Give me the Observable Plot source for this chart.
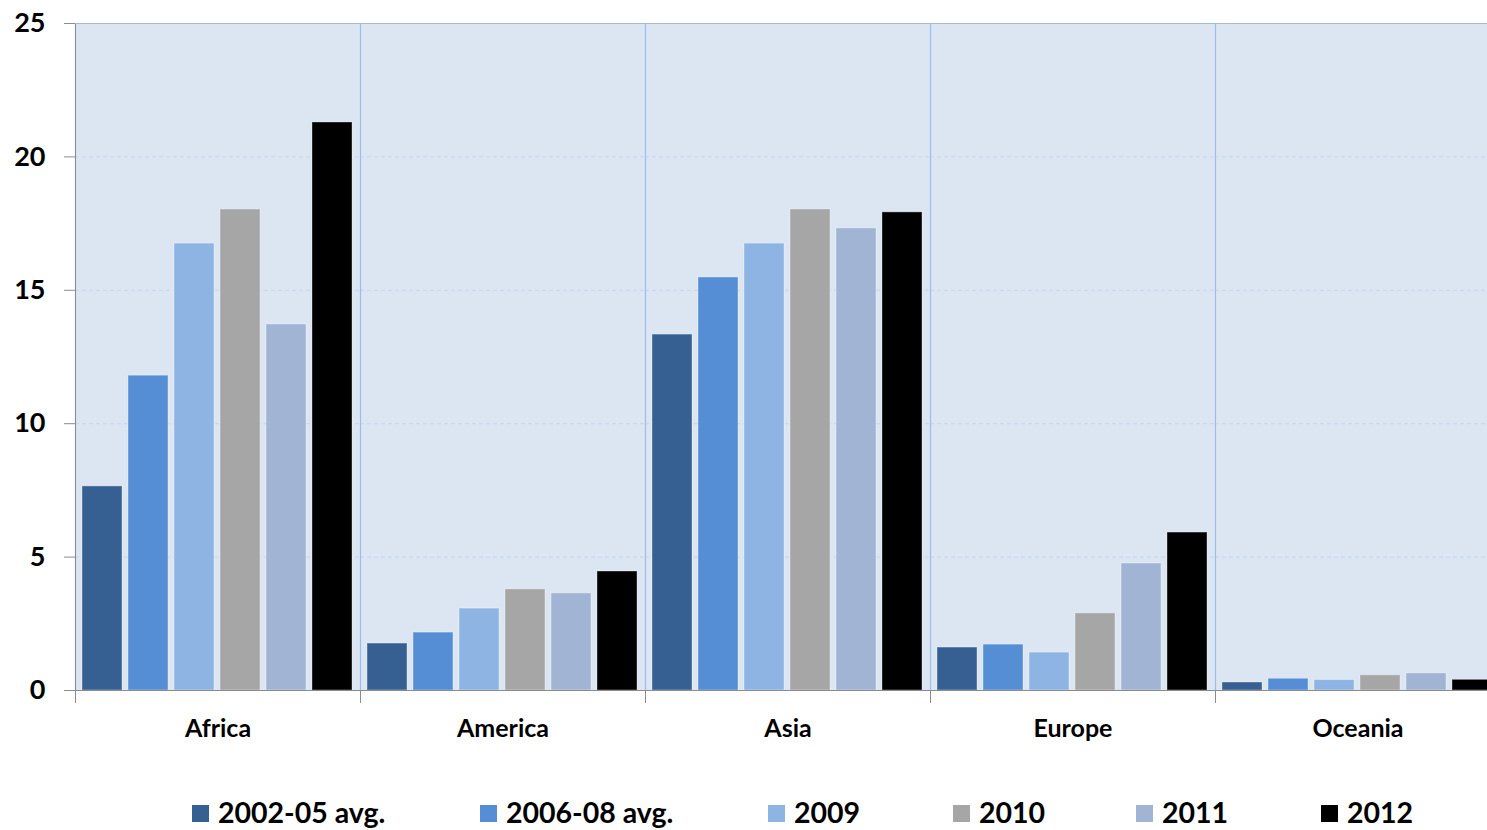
<!DOCTYPE html>
<html><head><meta charset="utf-8">
<script src="https://cdn.jsdelivr.net/npm/d3@7"></script>
<script src="https://cdn.jsdelivr.net/npm/@observablehq/plot@0.6"></script>
<style>
body{margin:0;overflow:hidden;background:#fff;font-family:Lato,sans-serif;width:1487px;height:830px}
#chart{width:1500px}
#legend{position:relative;height:40px;margin-top:35px;font-weight:bold;font-size:28.5px;color:#000;white-space:nowrap}
#legend .item{position:absolute;top:0;display:flex;align-items:center}
#legend .item:nth-child(1){left:192px}
#legend .item:nth-child(2){left:480px}
#legend .item:nth-child(3){left:768px}
#legend .item:nth-child(4){left:953px}
#legend .item:nth-child(5){left:1136px}
#legend .item:nth-child(6){left:1321px}
#legend .sw{width:17px;height:17px;margin-right:9px;margin-top:3px}
</style></head>
<body><div id="chart"></div><div id="legend"></div>
<script>
const regions = ["Africa","America","Asia","Europe","Oceania"];
const seriesNames = ["2002-05 avg.","2006-08 avg.","2009","2010","2011","2012"];
const seriesColors = ["#376092","#558ED5","#8EB4E3","#A6A6A6","#A1B4D4","#000000"];
const africa  = [7.65, 11.8, 16.75, 18.03, 13.72, 21.29];
const america = [1.76, 2.17, 3.07, 3.79, 3.64, 4.46];
const asia    = [13.34, 15.48, 16.75, 18.03, 17.32, 17.92];
const europe  = [1.61, 1.72, 1.42, 2.89, 4.76, 5.92];
const oceania = [0.30, 0.44, 0.39, 0.57, 0.64, 0.40];
const yTicks = [0, 5, 10, 15, 20, 25];

const byRegion = [africa, america, asia, europe, oceania];
const data = [];
regions.forEach((r, i) => seriesNames.forEach((s, j) => data.push({region: r, series: s, value: byRegion[i][j]})));

const chart = Plot.plot({
  width: 1500, height: 760,
  marginTop: 23, marginBottom: 70, marginLeft: 75, marginRight: 0,
  style: {fontFamily: "Lato, sans-serif", background: "transparent", color: "#000"},
  fx: {domain: regions, padding: 0, label: null},
  x: {domain: seriesNames, paddingInner: 0.13, paddingOuter: 0.16, axis: null},
  y: {domain: [0, 25], label: null},
  color: {domain: seriesNames, range: seriesColors},
  marks: [
    Plot.frame({fill: "#DCE6F2", stroke: null}),
    Plot.gridY(yTicks.slice(1, -1), {stroke: "#c2d5ee", strokeOpacity: 1, strokeDasharray: "4,3"}),
    Plot.frame({anchor: "left", stroke: "#9dbce6", strokeWidth: 1.2}),
    Plot.frame({anchor: "left", stroke: "#8c8c8c", insetTop: 667, insetBottom: -12}),
    Plot.barY(data, {fx: "region", x: "series", y: "value", fill: "series", stroke: "#ffffff", strokeOpacity: 0.35}),
    Plot.frame({facet: "super", anchor: "left", stroke: "#8c8c8c"}),
    Plot.frame({facet: "super", anchor: "bottom", stroke: "#8c8c8c"}),
    Plot.frame({facet: "super", anchor: "top", stroke: "#a9b8cc"}),
    Plot.axisY(yTicks, {tickSize: 11, tickPadding: 19, fontSize: 27, fontWeight: "bold", stroke: "#8c8c8c", fill: "#000", label: null}),
    Plot.axisFx({anchor: "bottom", tickSize: 0, tickPadding: 29, fontSize: 25, fontWeight: "bold", fill: "#000", label: null})
  ]
});
document.getElementById("chart").appendChild(chart);

const legend = document.getElementById("legend");
seriesNames.forEach((s, i) => {
  const item = document.createElement("div");
  item.className = "item";
  const sw = document.createElement("span");
  sw.className = "sw";
  sw.style.background = seriesColors[i];
  const t = document.createElement("span");
  t.textContent = s;
  item.appendChild(sw); item.appendChild(t);
  legend.appendChild(item);
});
</script>
</body></html>
